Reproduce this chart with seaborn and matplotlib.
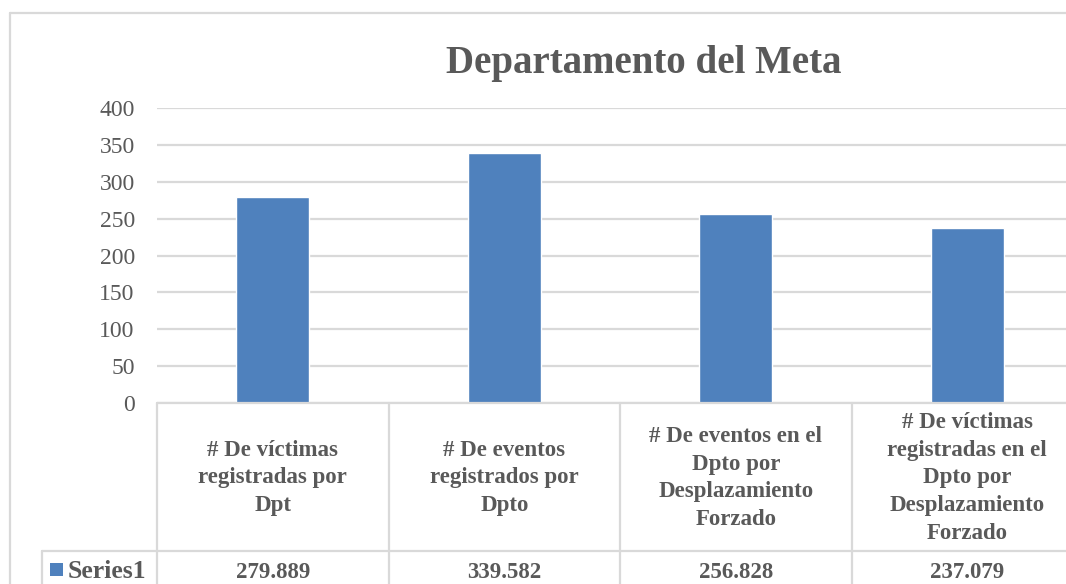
import matplotlib
matplotlib.use("Agg")
import matplotlib.pyplot as plt
import matplotlib.transforms as mtrans
from matplotlib.lines import Line2D
from matplotlib.patches import Rectangle
import seaborn as sns

# data
categories = [
    "# De víctimas\nregistradas por\nDpt",
    "# De eventos\nregistrados por\nDpto",
    "# De eventos en el\nDpto por\nDesplazamiento\nForzado",
    "# De víctimas\nregistradas en el\nDpto por\nDesplazamiento\nForzado",
]
values = [279.889, 339.582, 256.828, 237.079]
series_name = "Series1"
title = "Departamento del Meta"
y_ticks = [0, 50, 100, 150, 200, 250, 300, 350, 400]

BAR = "#4F81BD"
TXT = "#595959"
GRID = "#D9D9D9"
W, H = 1066, 584


def fx(px):
    return px / W


def fy(py):
    return 1 - py / H


sns.set_style("white")
plt.rcParams["font.family"] = ["Liberation Serif", "DejaVu Serif"]

fig = plt.figure(figsize=(W / 100, H / 100), dpi=100)
ax = fig.add_axes([fx(157), fy(403), fx(1083 - 157), (403 - 108) / H])

sns.barplot(x=list(range(len(values))), y=values, color=BAR, saturation=1,
            width=0.315, ax=ax, native_scale=True)
ax.set_xlim(-0.5, len(values) - 0.5)
ax.set_ylim(0, 400)
ax.set_yticks(y_ticks)
ax.yaxis.grid(True, color=GRID, lw=1.6)
ax.set_axisbelow(True)
ax.tick_params(axis="y", length=0, pad=16, labelsize=17, labelcolor=TXT)
ax.tick_params(axis="x", length=0, labelbottom=False)
ax.set_xlabel("")
ax.set_ylabel("")
for s in ax.spines.values():
    s.set_visible(False)

# data table under the axis
tr = mtrans.blended_transform_factory(ax.transData, fig.transFigure)
line_kw = dict(color=GRID, lw=1.6, clip_on=False)
fig.add_artist(Line2D([fx(157), 1.05], [fy(403), fy(403)], transform=fig.transFigure, **line_kw))
fig.add_artist(Line2D([fx(42), 1.05], [fy(551), fy(551)], transform=fig.transFigure, **line_kw))
fig.add_artist(Line2D([fx(42), fx(42)], [fy(551), -0.1], transform=fig.transFigure, **line_kw))
for b in range(len(values) + 1):
    fig.add_artist(Line2D([b - 0.5, b - 0.5], [fy(403), -0.1], transform=tr, **line_kw))

for i, (cat, val) in enumerate(zip(categories, values)):
    fig.text(i, fy(478), cat, transform=tr, ha="center", va="center",
             fontsize=16.5, fontweight="bold", color=TXT, linespacing=1.42)
    fig.text(i, fy(572), f"{val:.3f}", transform=tr, ha="center", va="center",
             fontsize=16.5, fontweight="bold", color=TXT)

fig.add_artist(Rectangle((fx(50), fy(576)), fx(13), 13 / H, transform=fig.transFigure,
                         color=BAR, lw=0))
fig.text(fx(68), fy(572), series_name, ha="left", va="center",
         fontsize=18.5, fontweight="bold", color=TXT)

# chart frame
fig.add_artist(Line2D([fx(10), 1.05], [fy(13), fy(13)], transform=fig.transFigure, **line_kw))
fig.add_artist(Line2D([fx(10), fx(10)], [fy(13), -0.1], transform=fig.transFigure, **line_kw))

fig.text(fx(644), fy(63), title, ha="center", va="center",
         fontsize=28, fontweight="bold", color=TXT)

fig.savefig("out.png", dpi=100)
